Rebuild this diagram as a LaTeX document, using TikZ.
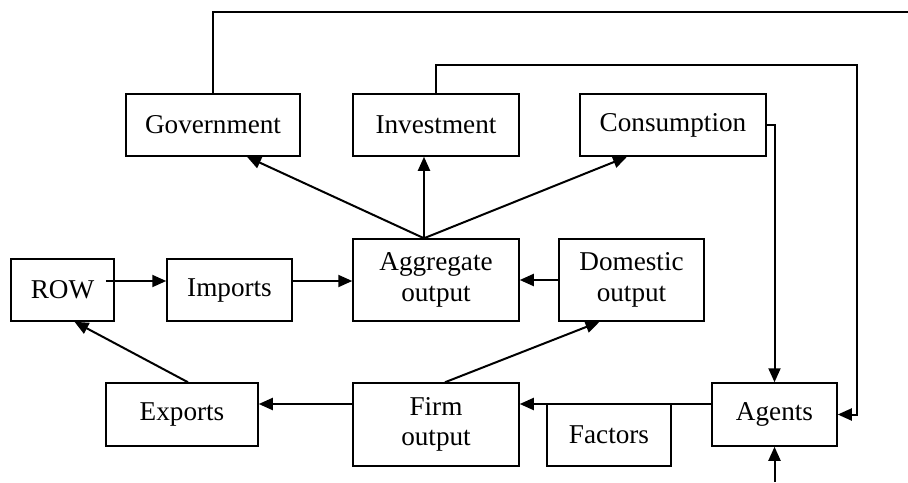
\documentclass[tikz,border=0pt]{standalone}
\usepackage{fontspec}
\setmainfont{Liberation Serif}
\usetikzlibrary{positioning, arrows.meta, calc}

\begin{document}
\begin{tikzpicture}[
        % one unit = one pixel of the sketch, y running downwards
        x=0.5pt, y=-0.5pt,
        every node/.style={font=\fontsize{13.6}{15.2}\selectfont},
        box/.style={draw, line width=0.75pt, inner sep=0pt, align=center},
        flow/.style={-{Triangle[length=7pt,width=6pt]}, line width=1pt},
        link/.style={line width=0.8pt}
    ]
    \useasboundingbox (0,0) rectangle (908,482);

    % top row: demand components
    \node[box, minimum width=87pt, minimum height=31pt] (gov) at (213,125) {Government};
    \node[box, minimum width=83pt, minimum height=31pt] (inv) at (436,125) {Investment};
    \node[box, minimum width=93pt, minimum height=31pt] (cons) at (673,125) {Consumption};

    % middle row
    \node[box, minimum width=51.5pt, minimum height=31pt] (row) at (62.5,290) {ROW};
    \node[box, minimum width=62.5pt, minimum height=31pt] (imp) at (229.5,290) {Imports};
    \node[box, minimum width=83pt, minimum height=41pt] (agg) at (436,280) {Aggregate\\output};
    \node[box, minimum width=72.5pt, minimum height=41pt] (dom) at (631.5,280) {Domestic\\output};

    % bottom row
    \node[box, minimum width=76pt, minimum height=31.5pt] (exp) at (182,414.5) {Exports};
    \node[box, minimum width=83pt, minimum height=41.5pt] (firm) at (436,424.5) {Firm\\output};
    \node[box, minimum width=62pt, minimum height=31pt] (fac) at (609,435) {Factors};
    \node[box, minimum width=62.5pt, minimum height=31.5pt] (agents) at (774.5,414.5) {Agents};

    % free ends of the loops
    \coordinate (govend) at (908,12);
    \coordinate (invloop) at (857,65);
    \coordinate (agentsin) at (774.5,482);

    % aggregate output is spent
    \draw[flow] ([xshift=-6pt]agg.north) -- ([xshift=17pt]gov.south);
    \draw[flow] ([xshift=-6pt]agg.north) -- ([xshift=-6pt]inv.south);
    \draw[flow] ([xshift=-6pt]agg.north) -- ([xshift=-23pt]cons.south);

    % trade
    \draw[flow] ([xshift=-4.5pt,yshift=4.5pt]row.east) -- ([yshift=4.5pt]imp.west);
    \draw[flow] ([yshift=4.5pt]imp.east) -- ([yshift=-0.5pt]agg.west);
    \draw[flow] (dom.west) -- (agg.east);
    \draw[flow] ([xshift=4.5pt]firm.north) -- ([xshift=-16pt]dom.south);
    \draw[flow] ([yshift=10.25pt]firm.west) -- ([yshift=5.25pt]exp.east);
    \draw[flow] ([xshift=3pt]exp.north) -- ([xshift=6pt]row.south);

    % agents
    \draw[flow] ([yshift=5.25pt]agents.west) -- ([yshift=10.25pt]firm.east);
    \draw[flow] (cons.east) -| (agents.north);
    \draw[flow] (inv.north) |- (invloop) |- (agents.east);
    \draw[link] (gov.north) |- (govend);
    \draw[flow] (agentsin) -- (agents.south);
\end{tikzpicture}
\end{document}
